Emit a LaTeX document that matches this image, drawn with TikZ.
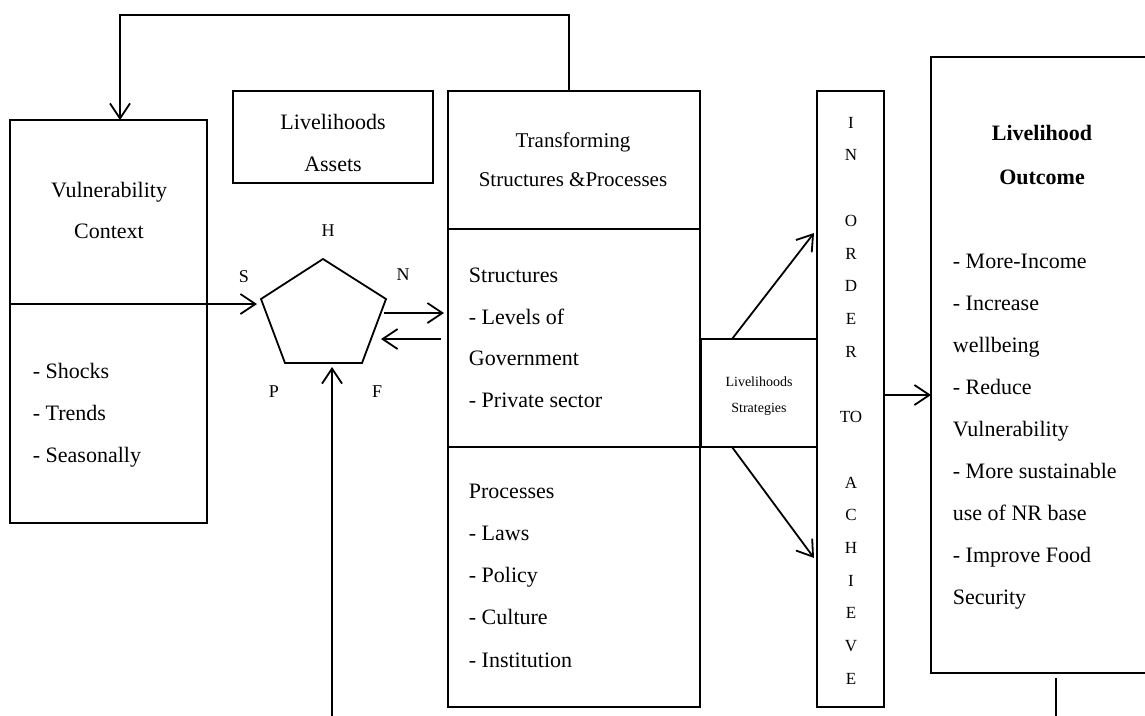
\documentclass[tikz,border=0pt]{standalone}
\usepackage{fontspec}
\setmainfont{Liberation Serif}
\usetikzlibrary{arrows.meta}
\begin{document}
\begin{tikzpicture}[x=1pt,y=-1pt,
  line width=1.8pt,
  box/.style={draw, line width=1.8pt, inner sep=0pt, outer sep=0pt, anchor=north west},
  txt/.style={inner sep=0pt, anchor=mid, font=\fontsize{22}{26}\selectfont},
  txtl/.style={inner sep=0pt, anchor=mid west, font=\fontsize{22}{26}\selectfont},
  txtt/.style={inner sep=0pt, anchor=mid, font=\fontsize{21}{25}\selectfont},
  lbl/.style={inner sep=0pt, anchor=mid, font=\fontsize{18}{22}\selectfont},
  vlet/.style={inner sep=0pt, anchor=mid, font=\fontsize{17}{20}\selectfont},
  tinytxt/.style={inner sep=0pt, anchor=mid, font=\fontsize{14}{16}\selectfont},
  arr/.style={-{Straight Barb[length=15pt,width=20pt]}}
]
\useasboundingbox (0,0) rectangle (1145,715);
\clip (0,0) rectangle (1145,715);

% boxes
\node[box, minimum width=197pt, minimum height=403pt] (vul) at (10,120) {};
\node[box, minimum width=200pt, minimum height=92pt] (assets) at (233,91) {};
\node[box, minimum width=252pt, minimum height=138pt] (trans) at (448,91) {};
\node[box, minimum width=252pt, minimum height=218pt] (struct) at (448,229) {};
\node[box, minimum width=252pt, minimum height=260pt] (proc) at (448,447) {};
\node[box, minimum width=116pt, minimum height=108pt] (strat) at (701,339) {};
\node[box, minimum width=67pt, minimum height=616pt] (order) at (817,91) {};
\node[box, minimum width=222pt, minimum height=616pt] (outc) at (931,57) {};

% pentagon (asset pentagon)
\coordinate (pT) at (323,259);
\coordinate (pR) at (386,299);
\coordinate (pBR) at (362,363);
\coordinate (pBL) at (285,363);
\coordinate (pL) at (261,299);
\draw (pT) -- (pR) -- (pBR) -- (pBL) -- (pL) -- cycle;

% connectors
\coordinate (fbR) at (569,15);
\coordinate (fbL) at (120,15);
\draw[arr] (trans.north -| fbR) -- (fbR) -- (fbL) -- (vul.north -| fbL);

\coordinate (sIn) at (257,304);
\draw[arr] (vul.west |- sIn) -- (sIn);

\coordinate (nOut) at (384,313);
\draw[arr] (nOut) -- ([xshift=-4pt]struct.west |- nOut);
\coordinate (nIn) at (381,339);
\draw[arr] ([xshift=-7pt]struct.west |- nIn) -- (nIn);

\coordinate (pBot) at (332,367);
\coordinate (botIn) at (332,716);
\draw[arr] (botIn) -- (pBot);

\coordinate (sUp) at (732,339);
\coordinate (sUpEnd) at (814,233);
\draw[arr] (sUp) -- (sUpEnd);
\coordinate (sDn) at (732,447);
\coordinate (sDnEnd) at (814,558);
\draw[arr] (sDn) -- (sDnEnd);

\coordinate (oMid) at (884,395);
\draw[arr] (order.east |- oMid) -- (outc.west |- oMid);

\coordinate (outDown) at (1056,678);
\coordinate (outBot) at (1056,716);
\draw (outDown) -- (outBot);

% texts
\node[txt] (vulA) at (109,195) {Vulnerability};
\node[txt] (vulB) at (109,236) {Context};
\foreach \t [count=\i from 0] in {- Shocks,- Trends,- Seasonally}
  \node[txtl] (vc\i) at (32,{376+42*\i}) {\t};

\node[txt] (asA) at (333,127) {Livelihoods};
\node[txt] (asB) at (333,169) {Assets};

\node[txtt] (trA) at (573,145) {Transforming};
\node[txtt] (trB) at (573,184) {Structures \&Processes};

\foreach \t [count=\i from 0] in {Structures,- Levels of,Government,- Private sector}
  \node[txtl] (st\i) at (468,{280+41.7*\i}) {\t};
\foreach \t [count=\i from 0] in {Processes,- Laws,- Policy,- Culture,- Institution}
  \node[txtl] (pr\i) at (468,{496+42.2*\i}) {\t};

\node[tinytxt] (stA) at (759,384) {Livelihoods};
\node[tinytxt] (stB) at (759,410) {Strategies};

\foreach \k/\l in {0/I,1/N,3/O,4/R,5/D,6/E,7/R,9/TO,11/A,12/C,13/H,14/I,15/E,16/V,17/E}
  \node[vlet] (ord\k) at (851,{126+32.7*\k}) {\l};

\node[txt, font=\fontsize{22}{26}\selectfont\bfseries] (ocA) at (1042,138) {Livelihood};
\node[txt, font=\fontsize{22}{26}\selectfont\bfseries] (ocB) at (1042,182) {Outcome};
\foreach \t [count=\i from 0] in {- More-Income,- Increase,wellbeing,- Reduce,Vulnerability,- More sustainable,use of NR base,- Improve Food,Security}
  \node[txtl] (oc\i) at (952,{266+42*\i}) {\t};

\node[lbl] (lH) at (328,234) {H};
\node[lbl] (lS) at (244,280) {S};
\node[lbl] (lN) at (403,278) {N};
\node[lbl] (lP) at (274,395) {P};
\node[lbl] (lF) at (377,395) {F};
\end{tikzpicture}
\end{document}
